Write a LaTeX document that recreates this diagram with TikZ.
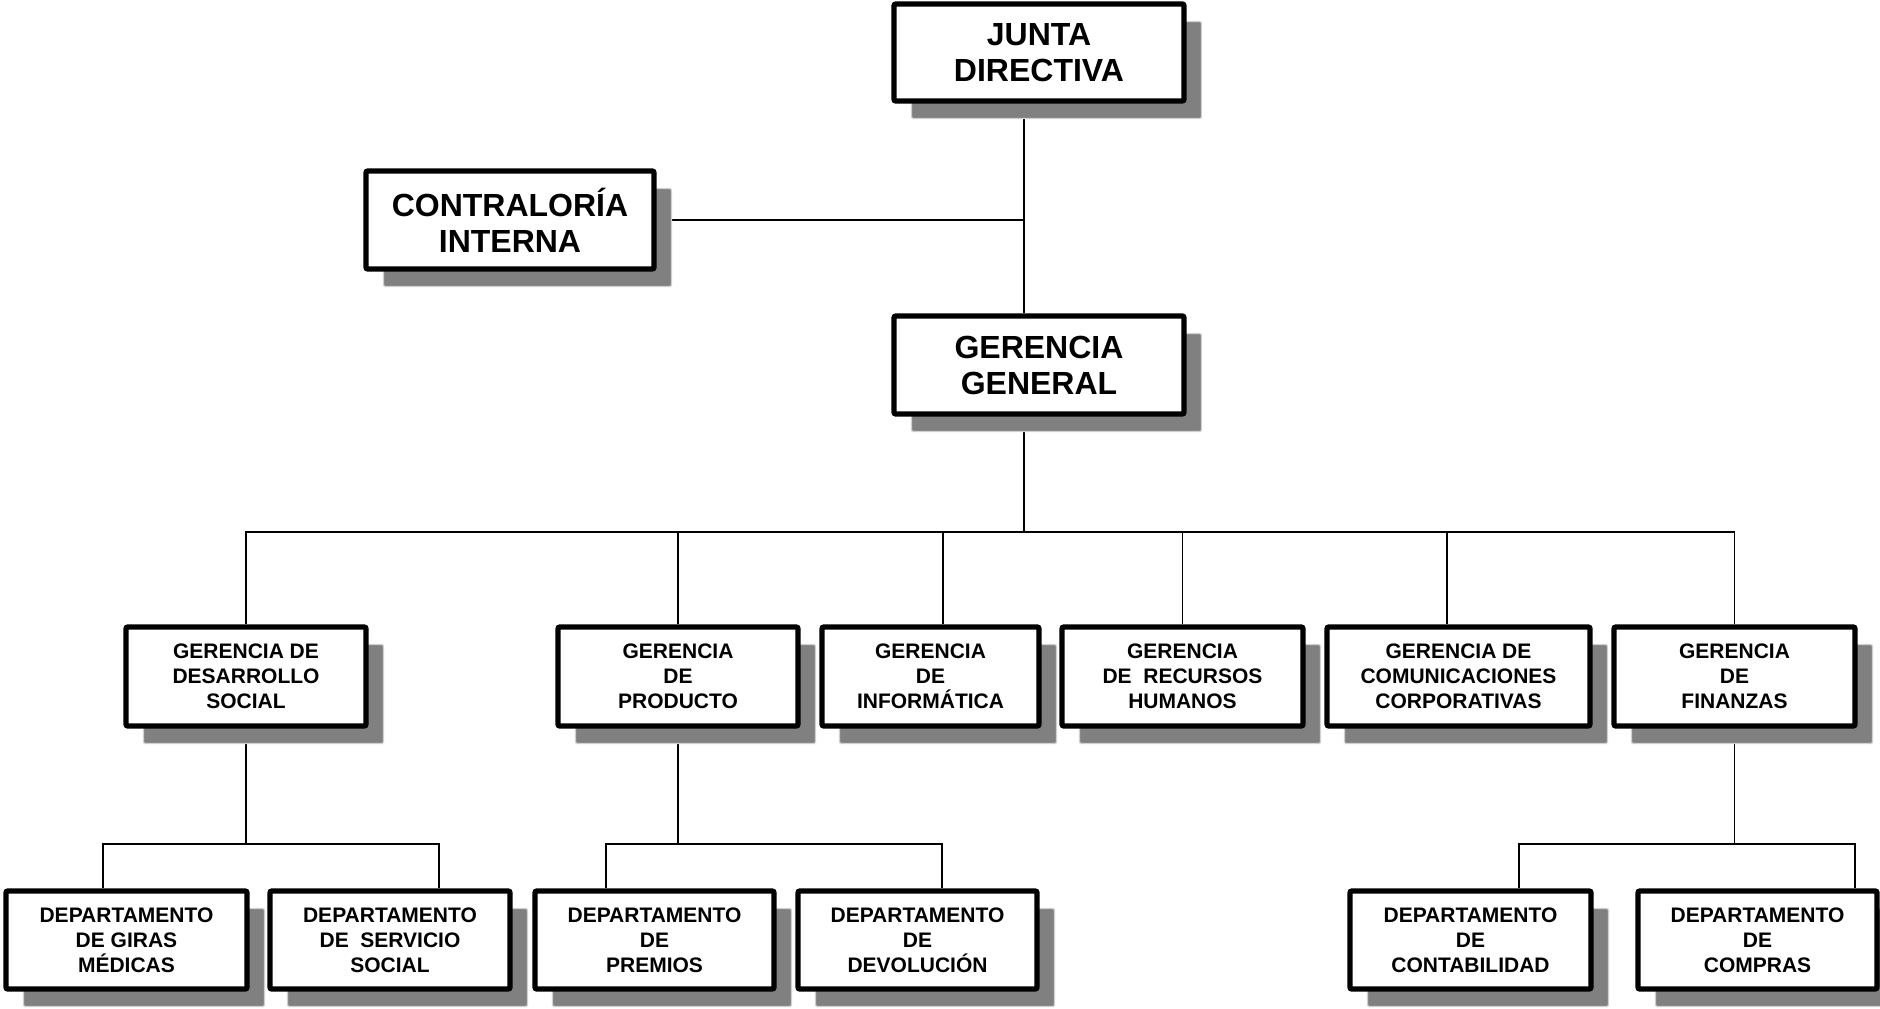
\documentclass[tikz,border=0pt]{standalone}
\usepackage{fontspec}
\setmainfont{Liberation Sans}
\usetikzlibrary{shadows}
\definecolor{shadowgray}{HTML}{808080}
\definecolor{shadowedge}{HTML}{D0D0D0}
\pgfdeclarelayer{background}
\pgfsetlayers{background,main}
\tikzset{
  orgbox/.style={draw=black, fill=white, line width=2.7pt, rounded corners=1pt,
    align=center, inner sep=0pt, font=\bfseries\fontsize{10.5}{12.4}\selectfont,
    general shadow={shadow xshift=8.75pt, shadow yshift=-8.75pt, fill=shadowgray,
      draw=shadowedge, line width=0.6pt, rounded corners=0pt}},
  bigbox/.style={orgbox, font=\bfseries\fontsize{16}{18}\selectfont},
  conn/.style={draw=black, line width=0.9pt}
}
\begin{document}
\begin{tikzpicture}[x=0.5pt, y=-0.5pt]
\useasboundingbox (0,0) rectangle (1880,1008);
\coordinate (trunk) at (1024,0);
\coordinate (bus) at (0,532);
\coordinate (sub) at (0,844);
% top
\node[bigbox, minimum width=145pt, minimum height=48.5pt] (junta) at (1039,52.5) {JUNTA\\DIRECTIVA};
\node[bigbox, minimum width=144pt, minimum height=49pt] (contra) at (510,220) {CONTRALORÍA\\INTERNA};
\node[bigbox, minimum width=145pt, minimum height=49pt] (gg) at (1039,365) {GERENCIA\\GENERAL};
% middle row
\node[orgbox, minimum width=120pt, minimum height=49.5pt] (des) at (246,676.5) {GERENCIA DE\\DESARROLLO\\SOCIAL};
\node[orgbox, minimum width=120pt, minimum height=49.5pt] (prod) at (678,676.5) {GERENCIA\\DE\\PRODUCTO};
\node[orgbox, minimum width=108.5pt, minimum height=49.5pt] (inf) at (930.5,676.5) {GERENCIA\\DE\\INFORMÁTICA};
\node[orgbox, minimum width=120.5pt, minimum height=49.5pt] (rrhh) at (1182.5,676.5) {GERENCIA\\DE\ \ RECURSOS\\HUMANOS};
\node[orgbox, minimum width=131.5pt, minimum height=49.5pt] (com) at (1458.5,676.5) {GERENCIA DE\\COMUNICACIONES\\CORPORATIVAS};
\node[orgbox, minimum width=120.5pt, minimum height=49.5pt] (fin) at (1734.5,676.5) {GERENCIA\\DE\\FINANZAS};
% bottom row
\node[orgbox, minimum width=120.5pt, minimum height=49pt] (giras) at (126.5,940) {DEPARTAMENTO\\DE GIRAS\\MÉDICAS};
\node[orgbox, minimum width=120pt, minimum height=49pt] (serv) at (390,940) {DEPARTAMENTO\\DE\ \ SERVICIO\\SOCIAL};
\node[orgbox, minimum width=119.5pt, minimum height=49pt] (prem) at (654.5,940) {DEPARTAMENTO\\DE\\PREMIOS};
\node[orgbox, minimum width=119.5pt, minimum height=49pt] (devo) at (917.5,940) {DEPARTAMENTO\\DE\\DEVOLUCIÓN};
\node[orgbox, minimum width=120.5pt, minimum height=49pt] (conta) at (1470.5,940) {DEPARTAMENTO\\DE\\CONTABILIDAD};
\node[orgbox, minimum width=119.5pt, minimum height=49pt] (compras) at (1757.5,940) {DEPARTAMENTO\\DE\\COMPRAS};
% connectors
\begin{pgfonlayer}{background}
\draw[conn] (junta.south -| trunk) -- (gg.north -| trunk);
\draw[conn] (contra.east) -- (contra.east -| trunk);
\draw[conn] (gg.south -| trunk) -- (bus -| trunk);
\draw[conn] (des.north) -- (des.north |- bus) -- (fin.north |- bus) -- (fin.north);
\draw[conn] (prod.north) -- (prod.north |- bus);
\draw[conn] ([xshift=6.25pt]inf.north) -- ([xshift=6.25pt]inf.north |- bus);
\draw[conn] (rrhh.north) -- (rrhh.north |- bus);
\draw[conn] ([xshift=-5.75pt]com.north) -- ([xshift=-5.75pt]com.north |- bus);
% sub-buses
\draw[conn] (des.south) -- (des.south |- sub);
\draw[conn] ([xshift=-11.75pt]giras.north) |- ([xshift=24.5pt]serv.north |- sub) -- ([xshift=24.5pt]serv.north);
\draw[conn] (prod.south) -- (prod.south |- sub);
\draw[conn] ([xshift=-24.25pt]prem.north) |- ([xshift=12.25pt]devo.north |- sub) -- ([xshift=12.25pt]devo.north);
\draw[conn] (fin.south) -- (fin.south |- sub);
\draw[conn] ([xshift=24.25pt]conta.north) |- ([xshift=48.75pt]compras.north |- sub) -- ([xshift=48.75pt]compras.north);
\end{pgfonlayer}
\end{tikzpicture}
\end{document}
